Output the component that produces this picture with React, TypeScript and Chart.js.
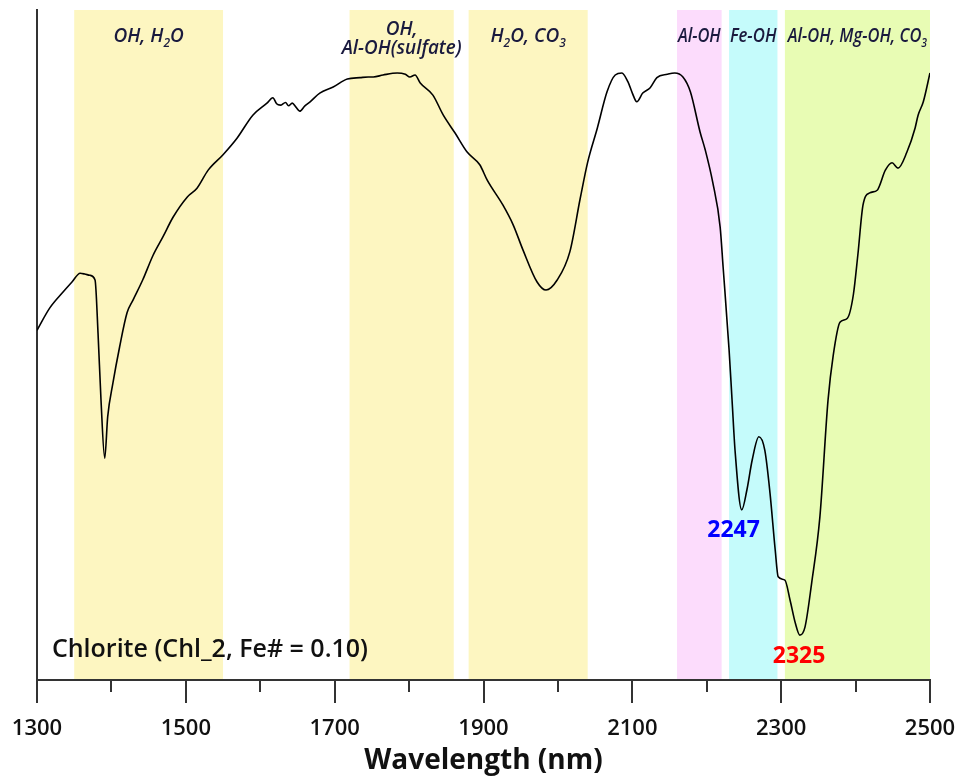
import React, { useEffect, useRef } from 'react';
import { Chart, registerables } from 'chart.js';
Chart.register(...registerables);

// Wavelength (nm) of each sampled point of the spectrum
const wavelengths = [
  1300, 1317, 1335, 1347, 1358, 1364, 1371, 1378, 1382, 1386, 1391, 1395, 1402, 1411, 1421, 1429,
  1442, 1456, 1469, 1483, 1502, 1515, 1530, 1550, 1569, 1590, 1609, 1617, 1622, 1627, 1634, 1638,
  1643, 1648, 1653, 1660, 1667, 1680, 1698, 1717, 1734, 1745, 1752, 1765, 1784, 1795, 1801, 1808,
  1815, 1832, 1846, 1862, 1878, 1895, 1905, 1926, 1940, 1953, 1972, 1984, 1999, 2016, 2030, 2040,
  2053, 2066, 2077, 2086, 2094, 2100, 2106, 2114, 2124, 2133, 2147, 2157, 2168, 2178, 2191, 2198,
  2208, 2218, 2222, 2230, 2234, 2238, 2247, 2254, 2261, 2270, 2278, 2285, 2292, 2296, 2305, 2312,
  2319, 2325, 2332, 2341, 2352, 2363, 2370, 2379, 2389, 2397, 2403, 2410, 2419, 2429, 2440, 2449,
  2457, 2469, 2480, 2484, 2491, 2500,
];

// Relative reflectance (arbitrary units, no y-axis scale shown)
const reflectance = [
  0.522, 0.555, 0.579, 0.594, 0.607, 0.606, 0.604, 0.597, 0.518, 0.418, 0.331, 0.393, 0.443, 0.497, 0.548, 0.567,
  0.597, 0.634, 0.661, 0.691, 0.721, 0.734, 0.761, 0.784, 0.809, 0.843, 0.861, 0.869, 0.860, 0.858, 0.862, 0.857,
  0.861, 0.855, 0.849, 0.857, 0.863, 0.876, 0.885, 0.897, 0.899, 0.900, 0.900, 0.903, 0.906, 0.904, 0.900, 0.903,
  0.891, 0.873, 0.843, 0.816, 0.788, 0.769, 0.746, 0.709, 0.679, 0.642, 0.594, 0.582, 0.597, 0.639, 0.719, 0.773,
  0.824, 0.878, 0.903, 0.906, 0.893, 0.876, 0.863, 0.876, 0.884, 0.899, 0.904, 0.906, 0.900, 0.878, 0.818, 0.791,
  0.743, 0.676, 0.616, 0.493, 0.418, 0.343, 0.254, 0.284, 0.328, 0.363, 0.343, 0.279, 0.194, 0.154, 0.149, 0.119,
  0.085, 0.067, 0.079, 0.145, 0.243, 0.418, 0.485, 0.534, 0.540, 0.575, 0.634, 0.709, 0.727, 0.731, 0.761, 0.772,
  0.764, 0.788, 0.824, 0.843, 0.863, 0.906,
];

// Absorption feature bands
const bandStarts = [1350, 1720, 1880, 2160, 2230, 2305];
const bandEnds = [1550, 1860, 2040, 2220, 2295, 2500];
const bandLabels = ['OH, H_2O', 'OH,\nAl-OH(sulfate)', 'H_2O, CO_3', 'Al-OH', 'Fe-OH', 'Al-OH, Mg-OH, CO_3'];
const bandColors = ['#fdf6c1', '#fdf6c1', '#fdf6c1', '#fcdcfc', '#c5fbfb', '#e8fcb4'];

// Axis ticks
const xMin = 1300;
const xMax = 2500;
const tickStep = 100;
const labelStep = 200;

// Annotations
const sampleLabel = 'Chlorite (Chl_2, Fe# = 0.10)';
const featureLabels = ['2247', '2325'];
const featureWavelengths = [2236, 2324];
const featureColors = ['#0000ff', '#ff0000'];

const FONT = '"Open Sans", "DejaVu Sans", sans-serif';

function drawRich(
  ctx: CanvasRenderingContext2D,
  text: string,
  cx: number,
  baseline: number,
  size: number,
  maxW: number
) {
  const parts = text.split('_');
  const segs: { t: string; sub: boolean }[] = [];
  parts.forEach((p, i) => {
    if (i === 0) {
      if (p) segs.push({ t: p, sub: false });
    } else {
      segs.push({ t: p.charAt(0), sub: true });
      if (p.length > 1) segs.push({ t: p.slice(1), sub: false });
    }
  });
  const mainFont = `italic 600 ${size}px ${FONT}`;
  const subFont = `italic 600 ${Math.round(size * 0.62)}px ${FONT}`;
  let total = 0;
  const widths = segs.map((s) => {
    ctx.font = s.sub ? subFont : mainFont;
    const w = ctx.measureText(s.t).width;
    total += w;
    return w;
  });
  const k = Math.min(1, maxW / total);
  ctx.save();
  ctx.translate(cx, baseline);
  ctx.scale(k, 1);
  let x = -total / 2;
  ctx.textAlign = 'left';
  ctx.textBaseline = 'alphabetic';
  segs.forEach((s, i) => {
    ctx.font = s.sub ? subFont : mainFont;
    ctx.fillText(s.t, x, s.sub ? size * 0.28 : 0);
    x += widths[i];
  });
  ctx.restore();
}

const overlayPlugin = {
  id: 'overlay',
  beforeDraw(chart: any) {
    const { ctx, chartArea, scales } = chart;
    const x = scales.x;
    ctx.save();
    bandStarts.forEach((s, i) => {
      const x0 = x.getPixelForValue(s);
      const x1 = x.getPixelForValue(bandEnds[i]);
      ctx.fillStyle = bandColors[i];
      ctx.fillRect(x0, chartArea.top, x1 - x0, chartArea.bottom - chartArea.top);
    });
    ctx.restore();
  },
  afterDraw(chart: any) {
    const { ctx, chartArea, scales } = chart;
    const x = scales.x;
    const y = scales.y;
    ctx.save();
    // tick marks
    ctx.strokeStyle = '#333';
    ctx.lineWidth = 2;
    for (let v = xMin; v <= xMax; v += tickStep) {
      const px = Math.round(x.getPixelForValue(v));
      const len = (v - xMin) % labelStep === 0 ? 23 : 12;
      ctx.beginPath();
      ctx.moveTo(px, chartArea.bottom);
      ctx.lineTo(px, chartArea.bottom + len);
      ctx.stroke();
    }
    // band labels
    ctx.fillStyle = '#1a1a3e';
    bandLabels.forEach((label, i) => {
      const x0 = x.getPixelForValue(bandStarts[i]);
      const x1 = x.getPixelForValue(bandEnds[i]);
      const cx = (x0 + x1) / 2;
      const maxW = (x1 - x0) * 0.96;
      const lines = label.split('\n');
      if (lines.length === 1) {
        drawRich(ctx, lines[0], cx, chartArea.top + 32, 19, maxW);
      } else {
        lines.forEach((ln, j) => drawRich(ctx, ln, cx, chartArea.top + 25 + j * 19, 19, maxW + 20));
      }
    });
    // sample label
    ctx.fillStyle = '#111';
    ctx.font = `600 25px ${FONT}`;
    ctx.textAlign = 'left';
    ctx.textBaseline = 'alphabetic';
    ctx.fillText(sampleLabel, x.getPixelForValue(1320), y.getPixelForValue(0.034));
    // feature labels
    ctx.font = `bold 23px ${FONT}`;
    ctx.textAlign = 'center';
    const ys = [0.213, 0.025];
    featureLabels.forEach((t, i) => {
      ctx.fillStyle = featureColors[i];
      ctx.fillText(t, x.getPixelForValue(featureWavelengths[i]), y.getPixelForValue(ys[i]));
    });
    ctx.restore();
  },
};

export default function App() {
  const ref = useRef<HTMLCanvasElement>(null);
  useEffect(() => {
    if (!ref.current) return;
    const chart = new Chart(ref.current, {
      type: 'line',
      data: {
        datasets: [
          {
            data: wavelengths.map((w, i) => ({ x: w, y: reflectance[i] })),
            borderColor: '#000',
            borderWidth: 1.6,
            pointRadius: 0,
            cubicInterpolationMode: 'monotone',
            fill: false,
          },
        ],
      },
      options: {
        responsive: true,
        maintainAspectRatio: false,
        animation: false,
        layout: { padding: { left: 37, right: 31, top: 10, bottom: 0 } },
        plugins: { legend: { display: false }, tooltip: { enabled: false } },
        scales: {
          x: {
            type: 'linear',
            min: xMin,
            max: xMax,
            afterFit: (s: any) => {
              s.height = 100;
              s.paddingLeft = 0;
              s.paddingRight = 0;
            },
            grid: { display: false },
            border: { display: true, color: '#333', width: 2 },
            ticks: {
              stepSize: tickStep,
              autoSkip: false,
              maxRotation: 0,
              padding: 28,
              color: '#111',
              font: { family: FONT, size: 22, weight: '600' },
              callback: (v: any) => ((Number(v) - xMin) % labelStep === 0 ? String(v) : ''),
            },
            title: {
              display: true,
              text: 'Wavelength (nm)',
              color: '#111',
              font: { family: FONT, size: 28, weight: 'bold' },
              padding: { top: 0, bottom: 2 },
            },
          },
          y: {
            min: 0,
            max: 1,
            afterFit: (s: any) => {
              s.width = 0;
              s.paddingTop = 0;
              s.paddingBottom = 0;
            },
            grid: { display: false },
            ticks: { display: false },
            border: { display: true, color: '#333', width: 2 },
          },
        },
      },
      plugins: [overlayPlugin],
    } as any);
    return () => chart.destroy();
  }, []);
  return (
    <div style={{ position: 'fixed', left: 0, top: 0, width: 961, height: 780, background: '#fff' }}>
      <canvas ref={ref} />
    </div>
  );
}
